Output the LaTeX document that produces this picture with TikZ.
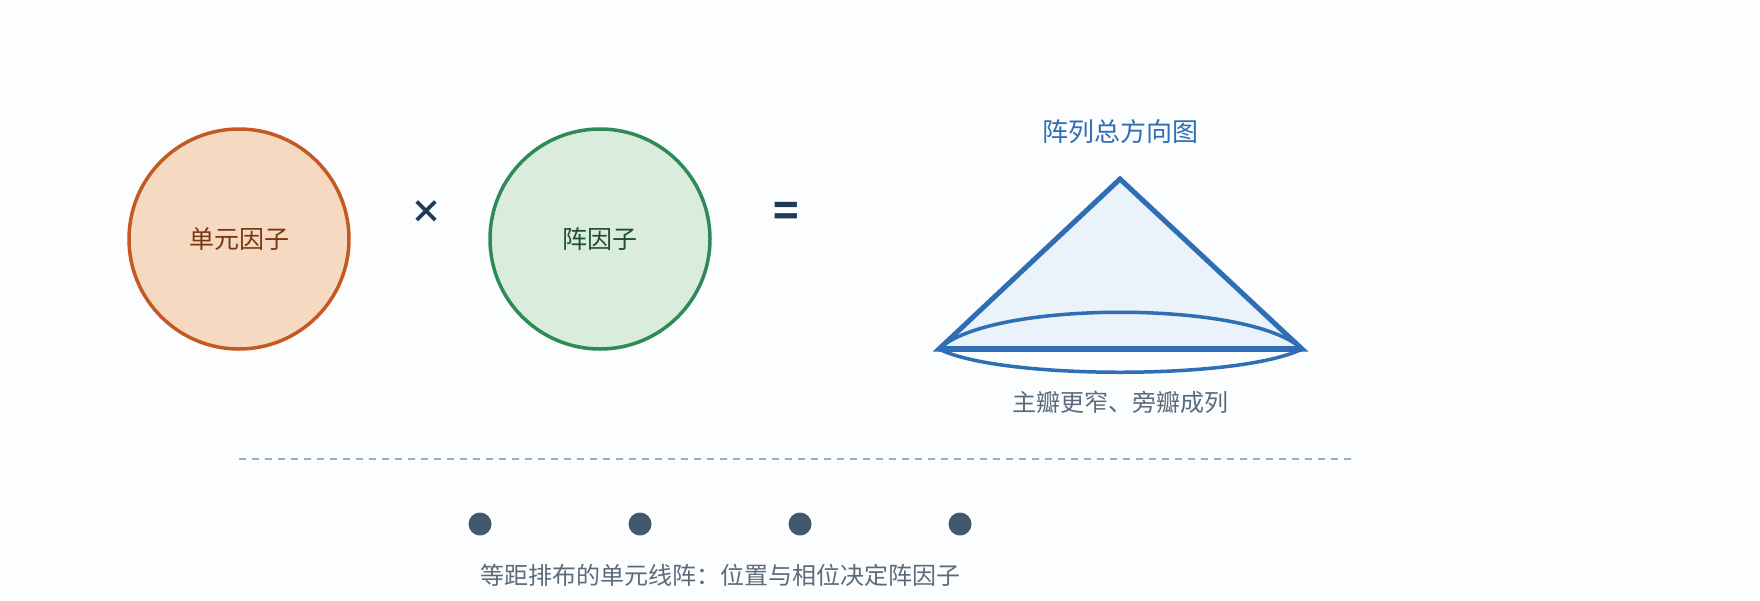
\documentclass[tikz,border=0pt]{standalone}
\usepackage{fontspec}
\setmainfont{Noto Sans CJK SC}
\usetikzlibrary{positioning}

\definecolor{bgpaper}{HTML}{FBFDFE}
\definecolor{elemline}{HTML}{C45A22}
\definecolor{elemfill}{HTML}{F5D9C0}
\definecolor{elemtext}{HTML}{7A3512}
\definecolor{arrayline}{HTML}{2E8B57}
\definecolor{arrayfill}{HTML}{DAECDB}
\definecolor{arraytext}{HTML}{1F4D33}
\definecolor{opnavy}{HTML}{1F3A56}
\definecolor{beamblue}{HTML}{2F6DB5}
\definecolor{beamfill}{HTML}{EAF2FA}
\definecolor{capgrey}{HTML}{5B6B7C}
\definecolor{dotslate}{HTML}{42586F}
\definecolor{sepgrey}{HTML}{9AB0C0}

\tikzset{
  factor/.style={circle, minimum size=220pt, inner sep=0pt, line width=3.5pt, font=\fontsize{25}{30}\selectfont},
  opsign/.style={font=\fontsize{32}{38}\bfseries, text=opnavy},
  caption/.style={font=\fontsize{24}{28}\selectfont, text=capgrey},
  lobe/.style={draw=beamblue, line width=3.5pt},
  element/.style={circle, fill=dotslate, minimum size=23pt, inner sep=0pt},
}

\begin{document}
\begin{tikzpicture}[x=1pt,y=-1pt]
\fill[bgpaper] (0,0) rectangle (1760,600);
\useasboundingbox (0,0) rectangle (1760,600);

\node[factor, draw=elemline, fill=elemfill, text=elemtext] (elem) at (239,239) {单元因子};
\node[factor, draw=arrayline, fill=arrayfill, text=arraytext] (af) at (600,239) {阵因子};
\node[opsign] (times) at (426,212) {×};
\node[opsign, font=\fontsize{42}{46}\bfseries] (equals) at (786,214) {=};

\node[font=\fontsize{26}{30}\selectfont, text=beamblue] (title) at (1120,132) {阵列总方向图};
\coordinate (apex) at (1120,179);
\coordinate (bl) at (939,349);
\coordinate (br) at (1302,349);
\draw[draw=beamblue, fill=beamfill, line width=5pt] (bl) -- (apex) -- (br) -- cycle;
\draw[lobe] (bl) .. controls (990,300) and (1250,300) .. (br);
\draw[lobe] (bl) .. controls (1000,380) and (1240,380) .. (br);
\draw[beamblue, line width=5.5pt] (bl) -- (br);
\node[caption] (pattern) at (1120,402) {主瓣更窄、旁瓣成列};

\coordinate (sepL) at (239,459);
\coordinate (sepR) at (1352,459);
\draw[sepgrey, line width=1.5pt, dash pattern=on 7pt off 6pt] (sepL) -- (sepR);

\foreach \i/\x in {1/480,2/640,3/800,4/960}
  \node[element] (el\i) at (\x,524) {};
\node[caption] (arraynote) at (720,575) {等距排布的单元线阵：位置与相位决定阵因子};
\end{tikzpicture}
\end{document}
